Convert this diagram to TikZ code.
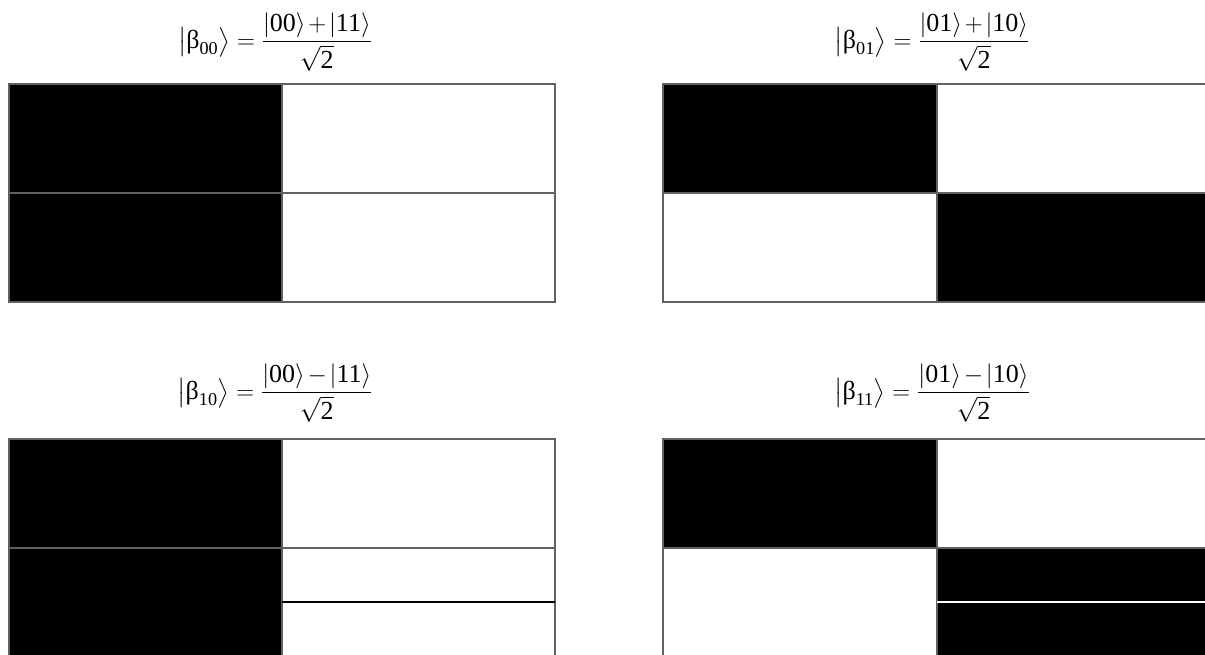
\documentclass[tikz,border=0pt]{standalone}
\usepackage{amsmath}
\usepackage{fontspec}
\setmainfont{Liberation Serif}
\begin{document}
\begin{tikzpicture}[x=1pt,y=-1pt,
  gridline/.style={draw=black!62,line width=2pt},
  cellfill/.style={fill=black},
  formula/.style={inner sep=0pt,font=\fontsize{26}{30}\selectfont}]
\useasboundingbox (0,0) rectangle (1205,655);
\clip (0,0) rectangle (1205,655);
\newcommand{\ket}[1]{\lvert\text{#1}\rangle}
\newcommand{\bket}[1]{\bigl\lvert\text{β}_{\text{#1}}\bigr\rangle}
\newcommand{\op}[1]{\mkern2mu{#1}\mkern2mu}
% formulas
\node[formula] (f00) at (275,42) {$\displaystyle\bket{00}=\frac{\ket{00}\op{+}\ket{11}}{\sqrt{\text{2}}}$};
\node[formula] (f01) at (932,42) {$\displaystyle\bket{01}=\frac{\ket{01}\op{+}\ket{10}}{\sqrt{\text{2}}}$};
\node[formula] (f10) at (275,393) {$\displaystyle\bket{10}=\frac{\ket{00}\op{-}\ket{11}}{\sqrt{\text{2}}}$};
\node[formula] (f11) at (932,393) {$\displaystyle\bket{11}=\frac{\ket{01}\op{-}\ket{10}}{\sqrt{\text{2}}}$};
% grid 00
\fill[cellfill] (9,84) rectangle (282,302);
\draw[gridline] (9,84) rectangle (555,302);
\draw[gridline] (282,84) -- (282,302);
\draw[gridline] (9,193) -- (555,193);
% grid 01
\fill[cellfill] (663,84) rectangle (937,193);
\fill[cellfill] (937,193) rectangle (1212,302);
\draw[gridline] (663,84) rectangle (1212,302);
\draw[gridline] (937,84) -- (937,302);
\draw[gridline] (663,193) -- (1212,193);
% grid 10
\fill[cellfill] (9,439) rectangle (282,660);
\draw[gridline] (9,439) rectangle (555,660);
\draw[gridline] (282,439) -- (282,660);
\draw[gridline] (9,548) -- (555,548);
\draw[draw=black,line width=2pt] (282,602) -- (555,602);
% grid 11
\fill[cellfill] (663,439) rectangle (937,548);
\fill[cellfill] (937,548) rectangle (1212,660);
\draw[gridline] (663,439) rectangle (1212,660);
\draw[gridline] (937,439) -- (937,660);
\draw[gridline] (663,548) -- (1212,548);
\draw[draw=white,line width=2pt] (937,602) -- (1212,602);
\end{tikzpicture}
\end{document}
